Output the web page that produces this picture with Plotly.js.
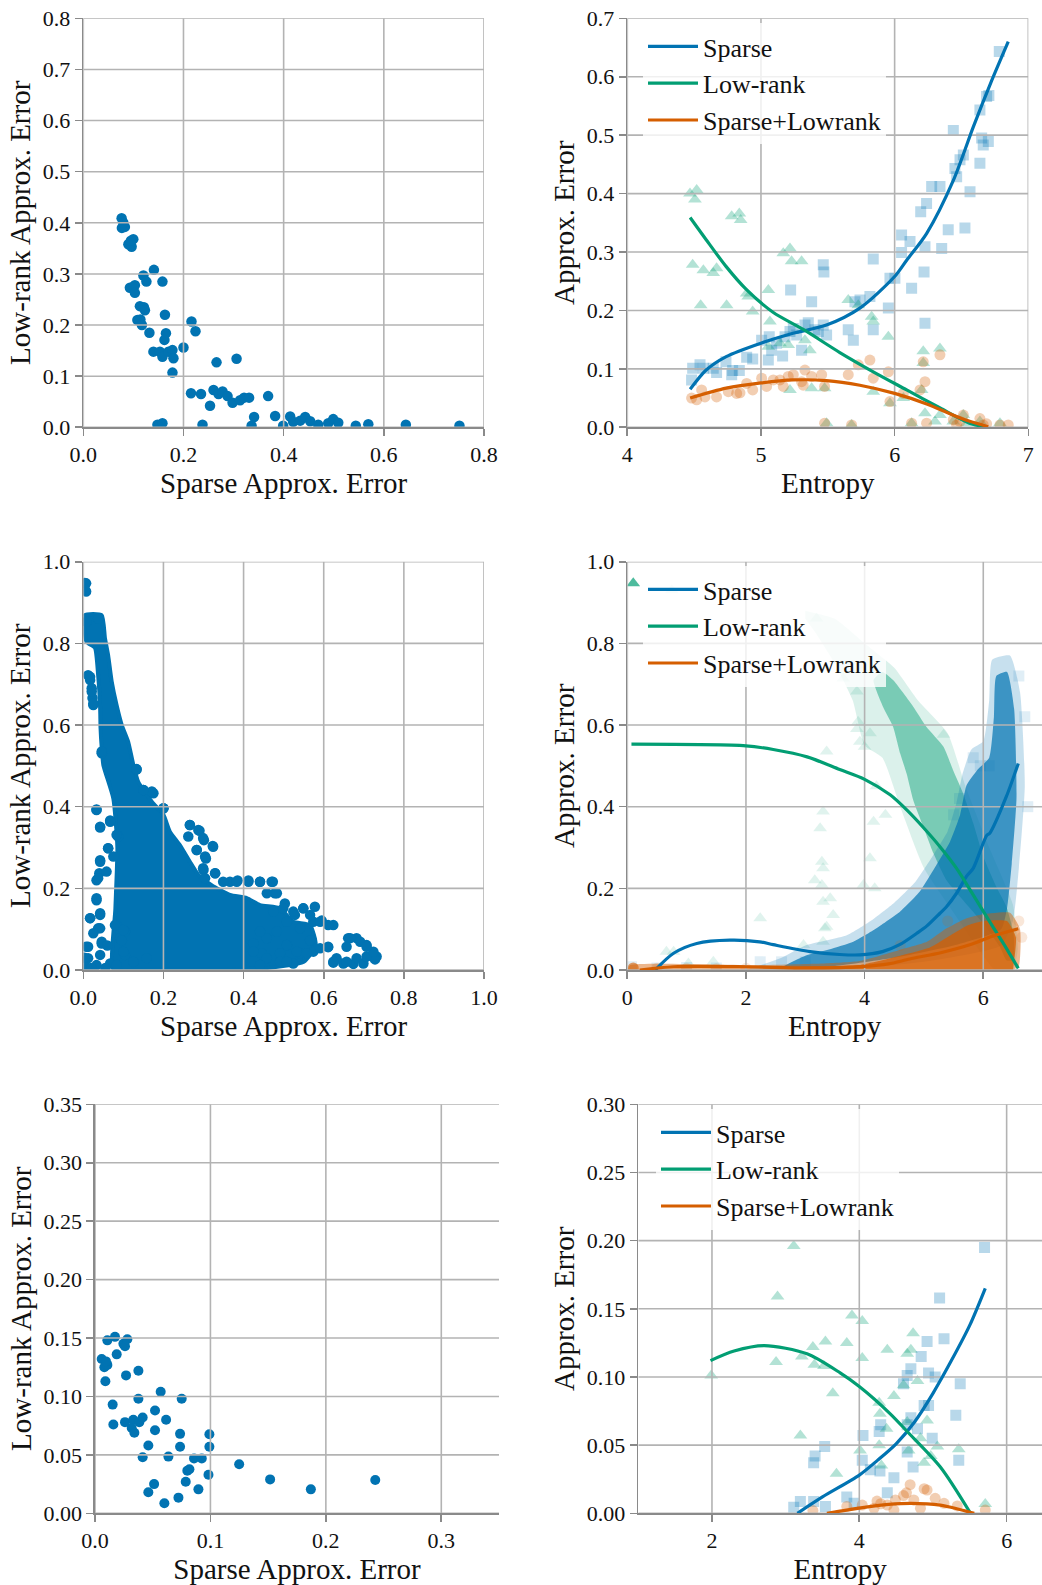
<!DOCTYPE html>
<html><head><meta charset="utf-8">
<script src="https://cdn.plot.ly/plotly-3.0.1.min.js"></script>
<style>html,body{margin:0;padding:0;background:#fff}#chart{width:1042px;height:1585px}</style>
</head><body><div id="chart"></div>
<script>
// ---------- Panel 1 (top-left): sparse vs low-rank error ----------
const p1Points = [[0.0765,0.409],[0.077,0.390],[0.083,0.392],[0.080,0.400],[0.090,0.358],[0.0965,0.353],[0.0998,0.368],[0.095,0.365],
[0.093,0.273],[0.100,0.275],[0.103,0.278],[0.103,0.263],[0.120,0.297],[0.126,0.285],[0.141,0.308],[0.158,0.285],[0.113,0.237],[0.121,0.235],
[0.123,0.229],[0.108,0.210],[0.114,0.211],[0.117,0.200],[0.132,0.185],[0.163,0.220],[0.165,0.184],[0.162,0.171],[0.140,0.148],[0.153,0.148],
[0.158,0.138],[0.170,0.148],[0.178,0.151],[0.180,0.135],[0.178,0.107],[0.200,0.156],[0.216,0.207],[0.224,0.188],[0.215,0.0665],[0.235,0.065],
[0.253,0.042],[0.266,0.127],[0.306,0.134],[0.260,0.073],[0.270,0.065],[0.278,0.070],[0.288,0.061],[0.298,0.048],[0.313,0.053],[0.321,0.058],
[0.331,0.058],[0.369,0.061],[0.341,0.020],[0.383,0.022],[0.413,0.021],[0.419,0.011],[0.433,0.013],[0.443,0.020],[0.453,0.012],[0.469,0.005],
[0.489,0.008],[0.499,0.016],[0.509,0.009],[0.544,0.003],[0.569,0.006],[0.644,0.005],[0.751,0.003],[0.148,0.005],[0.158,0.008],[0.238,0.005],
[0.336,0.003],[0.399,0.003]];
const p1XTicks = [0,0.2,0.4,0.6,0.8];
const p1YTicks = [0,0.1,0.2,0.3,0.4,0.5,0.6,0.7,0.8];

// ---------- Panel 2 (top-right): error vs entropy ----------
const p2Sparse = [[4.481,0.081],[4.489,0.101],[4.544,0.107],[4.569,0.101],[4.643,0.101],[4.668,0.094],[4.738,0.112],[4.788,0.097],[4.838,0.097],
[4.781,0.090],[4.893,0.120],[4.938,0.117],[5.005,0.149],[5.055,0.115],[5.062,0.155],[5.080,0.132],[5.117,0.144],[5.162,0.122],[5.180,0.155],
[5.217,0.164],[5.222,0.235],[5.242,0.169],[5.267,0.158],[5.304,0.132],[5.329,0.175],[5.354,0.179],[5.379,0.215],[5.404,0.167],[5.429,0.164],
[5.466,0.278],[5.471,0.266],[5.491,0.158],[5.466,0.175],[5.653,0.167],[5.691,0.149],[5.703,0.215],[5.741,0.218],[5.815,0.224],[5.840,0.288],
[5.840,0.167],[5.953,0.204],[5.965,0.255],[6.002,0.255],[6.052,0.329],[6.052,0.299],[6.115,0.318],[6.127,0.238],[6.195,0.369],[6.227,0.309],
[6.220,0.266],[6.227,0.178],[6.239,0.383],[6.277,0.412],[6.339,0.412],[6.352,0.306],[6.401,0.338],[6.439,0.508],[6.451,0.443],[6.464,0.429],
[6.489,0.458],[6.514,0.466],[6.526,0.341],[6.564,0.403],[6.638,0.452],[6.638,0.543],[6.651,0.495],[6.663,0.483],[6.701,0.489],[6.688,0.566],
[6.705,0.568],[6.783,0.643]];
const p2LowRank = [[4.469,0.400],[4.519,0.406],[4.506,0.390],[4.489,0.278],[4.569,0.269],[4.643,0.264],[4.668,0.272],[4.549,0.209],[4.743,0.209],
[4.781,0.361],[4.838,0.366],[4.848,0.355],[4.893,0.229],[4.905,0.224],[4.938,0.198],[5.055,0.235],[5.067,0.181],[5.167,0.298],[5.217,0.306],
[5.229,0.284],[5.304,0.284],[5.055,0.138],[5.142,0.144],[5.204,0.141],[5.329,0.149],[5.366,0.132],[5.217,0.064],[5.379,0.067],[5.476,0.067],
[5.491,0.007],[5.653,0.218],[5.728,0.209],[5.828,0.189],[5.840,0.181],[5.953,0.155],[5.840,0.061],[5.965,0.041],[6.065,0.050],[6.127,0.007],
[6.214,0.130],[6.214,0.110],[6.202,0.064],[6.227,0.024],[6.339,0.135],[6.302,0.010],[6.339,0.021],[6.439,0.010],[6.514,0.021],[6.638,0.010],
[6.788,0.007],[5.678,0.004],[6.539,0.007]];
const p2SparseLowRank = [[4.481,0.050],[4.519,0.047],[4.556,0.064],[4.581,0.052],[4.668,0.052],[4.756,0.061],[4.818,0.058],[4.843,0.059],
[4.893,0.075],[4.938,0.064],[5.005,0.084],[5.042,0.070],[5.092,0.081],[5.142,0.081],[5.204,0.087],[5.242,0.090],[5.304,0.078],[5.329,0.098],
[5.379,0.087],[5.454,0.090],[5.167,0.070],[5.316,0.072],[5.476,0.070],[5.653,0.090],[5.728,0.107],[5.815,0.115],[5.840,0.084],[5.953,0.095],
[5.965,0.044],[6.065,0.058],[6.190,0.064],[6.214,0.112],[6.227,0.078],[6.339,0.124],[6.239,0.007],[6.127,0.007],[5.476,0.007],[5.678,0.004],
[6.439,0.013],[6.489,0.010],[6.464,0.004],[6.638,0.015],[6.663,0.004],[6.688,0.006],[6.788,0.004],[6.850,0.004],[6.514,0.021]];
const p2FitEntropy = {
  sparse:   [4.47,4.59,4.74,5.0,5.24,5.49,5.74,6.0,6.09,6.24,6.44,6.59,6.72,6.85],
  lowrank:  [4.47,4.59,4.74,4.89,5.09,5.32,5.59,5.84,6.09,6.34,6.56,6.68],
  combined: [4.47,4.74,5.0,5.24,5.49,5.74,6.0,6.24,6.5,6.70]
};
const p2FitSparse   = [0.065,0.098,0.121,0.144,0.161,0.175,0.204,0.258,0.286,0.332,0.423,0.515,0.590,0.660];
const p2FitLowRank  = [0.359,0.321,0.275,0.236,0.197,0.167,0.128,0.095,0.064,0.033,0.007,0.001];
const p2FitCombined = [0.050,0.067,0.076,0.081,0.080,0.072,0.058,0.040,0.015,0.001];
const p2XTicks = [4,5,6,7];
const p2YTicks = [0,0.1,0.2,0.3,0.4,0.5,0.6,0.7];

// ---------- Panel 3 (middle-left): dense cloud ----------
const p3CoreOutline = [[0.004,0.869],[0.046,0.869],[0.054,0.813],[0.062,0.771],[0.071,0.706],[0.083,0.649],[0.096,0.600],[0.112,0.559],
[0.125,0.502],[0.137,0.461],[0.171,0.412],[0.200,0.380],[0.216,0.339],[0.241,0.306],[0.266,0.265],[0.287,0.233],[0.320,0.208],[0.366,0.184],
[0.408,0.176],[0.441,0.159],[0.491,0.151],[0.524,0.118],[0.566,0.110],[0.580,0.060],[0.550,0.020],[0.450,0.004],[0.300,0.002],[0.150,0.002],
[0.075,0.002],[0.080,0.150],[0.085,0.300],[0.075,0.420],[0.050,0.502],[0.046,0.544],[0.043,0.593],[0.042,0.642],[0.037,0.722],[0.029,0.789],
[0.008,0.804],[0.004,0.869]];
const p3Points = [[0.007,0.947],[0.007,0.927],[0.004,0.948],[0.004,0.931],[0.008,0.853],[0.037,0.861],[0.012,0.722],[0.017,0.710],[0.021,0.690],
[0.023,0.666],[0.025,0.649],[0.017,0.718],[0.021,0.682],[0.025,0.653],[0.046,0.531],[0.046,0.535],[0.033,0.393],[0.042,0.349],[0.067,0.366],
[0.087,0.327],[0.062,0.298],[0.042,0.269],[0.040,0.237],[0.033,0.220],[0.033,0.171],[0.042,0.135],[0.017,0.127],[0.042,0.102],[0.083,0.110],
[0.104,0.094],[0.092,0.078],[0.046,0.065],[0.012,0.057],[0.104,0.037],[0.133,0.491],[0.150,0.441],[0.175,0.433],[0.200,0.396],[0.266,0.355],
[0.290,0.341],[0.301,0.318],[0.323,0.304],[0.283,0.294],[0.306,0.273],[0.300,0.245],[0.329,0.237],[0.366,0.216],[0.385,0.219],[0.412,0.219],
[0.441,0.216],[0.473,0.216],[0.478,0.188],[0.503,0.163],[0.549,0.151],[0.578,0.155],[0.595,0.121],[0.624,0.110],[0.528,0.135],[0.570,0.073],
[0.541,0.041],[0.574,0.045],[0.611,0.056],[0.661,0.078],[0.682,0.078],[0.707,0.061],[0.732,0.033],[0.728,0.026],[0.624,0.018],[0.649,0.016],
[0.674,0.015],[0.699,0.016],[0.524,0.016],[0.499,0.020],[0.491,0.041],[0.424,0.065],[0.445,0.041],[0.524,0.143],[0.549,0.151],[0.508,0.118],
[0.541,0.102],[0.574,0.118],[0.591,0.118],[0.611,0.110],[0.566,0.073],[0.591,0.053],[0.611,0.057],[0.533,0.045],[0.491,0.020],[0.508,0.020],
[0.558,0.041],[0.632,0.029],[0.657,0.020],[0.682,0.029],[0.707,0.033],[0.724,0.045],[0.666,0.078],[0.691,0.069],[0.707,0.057],[0.657,0.057],
[0.624,0.020],[0.566,0.135],[0.499,0.151],[0.474,0.143],[0.458,0.078],[0.441,0.094],[0.424,0.045],[0.458,0.029],[0.441,0.012],[0.508,0.061],
[0.483,0.094],[0.412,0.216],[0.441,0.216],[0.470,0.216],[0.458,0.188],[0.483,0.188],[0.383,0.216],[0.349,0.216],[0.329,0.237],[0.304,0.225],
[0.266,0.355],[0.287,0.343],[0.299,0.323],[0.324,0.302],[0.262,0.327],[0.283,0.294],[0.304,0.278],[0.299,0.249],[0.171,0.437],[0.150,0.441],
[0.200,0.396],[0.133,0.492],[0.033,0.392],[0.042,0.351],[0.067,0.363],[0.083,0.331],[0.062,0.298],[0.042,0.265],[0.075,0.278],[0.037,0.225],
[0.058,0.241],[0.033,0.176],[0.042,0.139],[0.017,0.127],[0.037,0.102],[0.079,0.110],[0.100,0.098],[0.096,0.073],[0.046,0.069],[0.008,0.057],
[0.012,0.029],[0.042,0.037],[0.067,0.016],[0.100,0.045],[0.125,0.020],[0.158,0.029],[0.004,0.012],[0.033,0.012],[0.083,0.012],[0.020,0.005],
[0.055,0.005],[0.003,0.030],[0.060,0.060],[0.025,0.090]];
const p3XTicks = [0,0.2,0.4,0.6,0.8,1.0];
const p3YTicks = [0,0.2,0.4,0.6,0.8,1.0];

// ---------- Panel 4 (middle-right): dense clouds vs entropy ----------
const p4LowRankOuter = [[3.0,0.88],[3.5,0.86],[4.0,0.80],[4.5,0.74],[4.9,0.66],[5.4,0.58],[5.7,0.45],[6.1,0.30],[6.5,0.16],[6.58,0.05],
[6.5,0.0],[6.2,0.0],[5.6,0.12],[5.0,0.25],[4.6,0.40],[4.3,0.52],[4.0,0.55],[3.8,0.66],[3.5,0.75],[3.2,0.82],[3.0,0.86]];
const p4LowRankCore = [[4.15,0.71],[4.31,0.645],[4.48,0.596],[4.6,0.53],[4.71,0.48],[4.82,0.416],[4.99,0.351],[5.16,0.286],[5.38,0.22],
[5.66,0.171],[6.0,0.114],[6.28,0.057],[6.39,0.024],[6.51,0.024],[6.51,0.09],[6.39,0.155],[6.22,0.204],[6.0,0.278],[5.83,0.36],[5.66,0.433],
[5.49,0.49],[5.33,0.547],[5.04,0.596],[4.82,0.645],[4.48,0.71],[4.3,0.73],[4.15,0.71]];
const p4SparseOuter = [[2.0,0.0],[2.6,0.03],[3.0,0.06],[3.7,0.085],[4.1,0.12],[4.5,0.165],[4.85,0.215],[5.15,0.28],[5.4,0.34],[5.55,0.41],
[5.65,0.48],[5.8,0.54],[6.0,0.56],[6.1,0.66],[6.15,0.76],[6.45,0.77],[6.62,0.68],[6.7,0.45],[6.6,0.25],[6.5,0.12],[6.3,0.06],[5.0,0.02],
[3.5,0.0]];
const p4SparseCore = [[2.6,0.005],[3.0,0.035],[3.4,0.05],[3.81,0.069],[4.2,0.102],[4.6,0.143],[4.93,0.192],[5.21,0.257],[5.44,0.314],
[5.61,0.38],[5.72,0.453],[5.9,0.49],[6.1,0.52],[6.18,0.62],[6.22,0.72],[6.4,0.73],[6.52,0.64],[6.56,0.42],[6.48,0.26],[6.4,0.15],[6.3,0.10],
[5.5,0.06],[4.5,0.03],[3.5,0.01],[2.6,0.005]];
const p4CombinedOuter = [[0.0,0.0],[0.05,0.012],[2.2,0.012],[3.3,0.016],[3.92,0.022],[4.59,0.049],[5.05,0.069],[5.38,0.102],[5.72,0.127],
[5.94,0.135],[6.45,0.14],[6.62,0.10],[6.6,0.01],[6.5,0.0]];
const p4CombinedCore = [[2.8,0.0],[2.8,0.005],[3.9,0.012],[4.6,0.035],[5.1,0.055],[5.45,0.085],[5.75,0.11],[6.0,0.12],[6.4,0.12],[6.55,0.08],
[6.5,0.0]];
const p4LowRankPoints = [[0.75,0.93],[0.66,0.045],[0.78,0.045],[1.03,0.016],[1.45,0.02],[2.24,0.127],[2.97,0.061],[3.16,0.22],[3.25,0.347],
[3.28,0.265],[3.30,0.249],[3.28,0.208],[3.30,0.388],[3.42,0.176],[3.30,0.167],[3.47,0.135],[3.33,0.102],[3.30,0.069],[4.15,0.363],[4.09,0.274],
[3.98,0.208],[4.17,0.20],[3.92,0.559],[3.87,0.59],[3.36,0.535],[3.64,0.714],[3.87,0.682],[5.33,0.576],[3.19,0.861],[3.89,0.608],[4.09,0.58],
[4.0,0.547],[3.36,0.106],[4.2,0.45],[4.35,0.38]];
const p4LowRankSolid = [[0.10,0.947]];
const p4SparsePoints = [[0.07,0.008],[0.5,0.005],[1.0,0.006],[1.5,0.005],[2.24,0.02],[2.6,0.02],[3.0,0.02],[5.83,0.52],[5.95,0.50],[6.1,0.50],
[6.6,0.72],[6.7,0.62],[6.75,0.40],[5.6,0.42],[5.5,0.38]];
const p4CombinedPoints = [[0.5,0.004],[1.0,0.004],[1.5,0.003],[2.0,0.004],[6.6,0.12],[6.65,0.08],[5.4,0.12],[4.6,0.06]];
const p4CombinedSolid = [[0.10,0.005]];
const p4FitEntropy = {
  sparse:   [0.47,0.78,1.17,1.73,2.23,2.46,3.08,3.58,3.92,4.3,4.59,4.88,5.05,5.27,5.38,5.55,5.72,5.83,6.06,6.11,6.39,6.59],
  lowrank:  [0.07,2.0,2.46,3.03,3.58,4.0,4.43,4.71,4.99,5.27,5.55,5.83,6.11,6.39,6.59],
  combined: [0.21,0.78,2.0,3.02,4.0,4.4,4.76,5.3,5.8,6.2,6.59]
};
const p4FitSparse   = [0.0,0.041,0.065,0.073,0.069,0.062,0.045,0.038,0.037,0.045,0.062,0.090,0.108,0.139,0.155,0.188,0.230,0.249,0.330,0.335,0.425,0.506];
const p4FitLowRank  = [0.553,0.549,0.540,0.522,0.491,0.467,0.429,0.392,0.349,0.302,0.249,0.184,0.118,0.053,0.004];
const p4FitCombined = [0.0,0.008,0.008,0.005,0.009,0.015,0.027,0.043,0.063,0.085,0.101];
const p4XTicks = [0,2,4,6];
const p4YTicks = [0,0.2,0.4,0.6,0.8,1.0];

// ---------- Panel 5 (bottom-left) ----------
const p5Points = [[0.0058,0.132],[0.0081,0.125],[0.0107,0.127],[0.0095,0.130],[0.009,0.113],[0.0107,0.148],[0.0173,0.151],[0.0246,0.145],
[0.026,0.143],[0.028,0.149],[0.0188,0.136],[0.0269,0.118],[0.0376,0.122],[0.0376,0.098],[0.0153,0.093],[0.0159,0.076],[0.026,0.078],
[0.0332,0.080],[0.0318,0.073],[0.0341,0.069],[0.0384,0.078],[0.0413,0.082],[0.0462,0.058],[0.0413,0.048],[0.0462,0.018],[0.0512,0.025],
[0.0601,0.0086],[0.0569,0.104],[0.052,0.088],[0.0616,0.080],[0.052,0.071],[0.0636,0.0485],[0.0737,0.068],[0.0737,0.057],[0.0751,0.098],
[0.0723,0.0134],[0.0786,0.027],[0.080,0.0365],[0.0818,0.0377],[0.0858,0.047],[0.0925,0.047],[0.0896,0.0205],[0.0983,0.033],[0.0991,0.0676],
[0.0991,0.057],[0.1249,0.042],[0.1517,0.029],[0.187,0.0205],[0.2428,0.0285]];
const p5XTicks = [0,0.1,0.2,0.3];
const p5YTicks = [0,0.05,0.10,0.15,0.20,0.25,0.30,0.35];

// ---------- Panel 6 (bottom-right) ----------
const p6Sparse = [[3.11,0.0044],[3.20,0.0086],[3.38,0.0086],[3.54,0.0049],[3.38,0.037],[3.40,0.042],[3.53,0.049],[3.83,0.012],[3.93,0.0073],
[4.04,0.039],[4.05,0.057],[4.15,0.032],[4.27,0.060],[4.29,0.065],[4.28,0.031],[4.38,0.015],[4.47,0.026],[4.60,0.095],[4.65,0.101],[4.70,0.106],
[4.65,0.065],[4.70,0.070],[4.65,0.045],[4.73,0.034],[4.79,0.062],[4.84,0.115],[4.88,0.079],[4.94,0.079],[4.92,0.126],[4.99,0.055],[4.94,0.103],
[5.03,0.100],[5.09,0.158],[5.15,0.128],[5.31,0.072],[5.35,0.039],[5.37,0.095],[5.70,0.195]];
const p6LowRank = [[1.99,0.101],[2.87,0.111],[2.89,0.159],[3.11,0.196],[3.20,0.057],[3.22,0.115],[3.37,0.122],[3.39,0.109],[3.54,0.126],
[3.52,0.108],[3.64,0.088],[3.69,0.029],[3.83,0.125],[3.90,0.145],[4.04,0.141],[4.04,0.114],[4.01,0.046],[4.27,0.081],[4.28,0.073],[4.27,0.050],
[4.30,0.035],[4.37,0.062],[4.38,0.120],[4.47,0.086],[4.60,0.094],[4.65,0.117],[4.70,0.120],[4.73,0.132],[4.79,0.097],[4.65,0.067],[4.83,0.055],
[4.67,0.046],[4.88,0.037],[4.92,0.068],[4.97,0.042],[5.06,0.049],[5.35,0.047],[5.71,0.0068]];
const p6SparseLowRank = [[3.37,0.002],[3.83,0.005],[4.04,0.006],[4.24,0.009],[4.29,0.007],[4.38,0.006],[4.49,0.0098],[4.60,0.013],[4.64,0.015],
[4.69,0.021],[4.74,0.0098],[4.88,0.018],[4.92,0.017],[5.03,0.011],[5.15,0.0073],[5.33,0.0054],[5.71,0.0024],[4.83,0.0037],[4.47,0.0024],
[4.20,0.0037]];
const p6FitEntropy = {
  sparse:   [3.16,3.5,4.0,4.25,4.5,4.75,5.0,5.25,5.5,5.71],
  lowrank:  [1.98,2.3,2.71,3.29,3.74,4.0,4.42,4.65,5.10,5.51],
  combined: [3.56,4.02,4.4,4.70,5.10,5.35,5.56]
};
const p6FitSparse   = [0.0,0.012,0.028,0.039,0.051,0.067,0.088,0.112,0.138,0.165];
const p6FitLowRank  = [0.112,0.119,0.123,0.117,0.103,0.093,0.073,0.060,0.034,0.0];
const p6FitCombined = [0.0,0.004,0.0065,0.0073,0.006,0.003,0.0];
const p6XTicks = [2,4,6];
const p6YTicks = [0,0.05,0.10,0.15,0.20,0.25,0.30];

const legendNames = ['Sparse','Low-rank','Sparse+Lowrank'];
const xTitleScatter = 'Sparse Approx. Error';
const yTitleScatter = 'Low-rank Approx. Error';
const xTitleEntropy = 'Entropy';
const yTitleEntropy = 'Approx. Error';

// ---------- styling ----------
const FONT = '"Liberation Serif", "Times New Roman", serif';
const BLUE = '#0173b2', GREEN = '#029e73', ORANGE = '#d55e00';
const GRID = '#b3b3b3', SPINE = '#8a8a8a', TXT = '#111111';
function rgba(hex, a){const n=parseInt(hex.slice(1),16);return `rgba(${n>>16&255},${n>>8&255},${n&255},${a})`;}
const X = pts => pts.map(p=>p[0]);
const Y = pts => pts.map(p=>p[1]);

function scatterPts(pts, xa, ya, color, symbol, size, opacity){
  return {type:'scatter', mode:'markers', x:X(pts), y:Y(pts), xaxis:xa, yaxis:ya, showlegend:false, hoverinfo:'skip',
    marker:{color:rgba(color,opacity), size:size, symbol:symbol, line:{width:0}}};
}
function cloud(pts, xa, ya, color, opacity, lw){
  return {type:'scatter', mode:'lines', x:X(pts), y:Y(pts), xaxis:xa, yaxis:ya, fill:'toself', fillcolor:rgba(color,opacity),
    line:{color:lw?rgba(color,opacity):'rgba(0,0,0,0)', width:lw||0, shape:'spline', smoothing:0.5}, showlegend:false, hoverinfo:'skip'};
}
function fit(xs, ys, xa, ya, color, name, legend){
  return {type:'scatter', mode:'lines', x:xs, y:ys, xaxis:xa, yaxis:ya, name:name, legend:legend,
    line:{color:color, width:3.2, shape:'spline', smoothing:0.8}, hoverinfo:'skip'};
}
function grid(xTicks, yTicks, xr, yr, xa, ya){
  const gx=[], gy=[];
  xTicks.forEach(t=>{gx.push(t,t,null); gy.push(yr[0],yr[1],null);});
  yTicks.forEach(t=>{gx.push(xr[0],xr[1],null); gy.push(t,t,null);});
  return {type:'scatter', mode:'lines', x:gx, y:gy, xaxis:xa, yaxis:ya, line:{color:GRID, width:1.6},
    showlegend:false, hoverinfo:'skip', connectgaps:false};
}

const R = {
  x1:[0,0.8], y1:[0,0.8], x2:[4,7], y2:[0,0.7], x3:[0,1], y3:[0,1],
  x4:[0,6.99], y4:[0,1], x5:[0,0.35], y5:[0,0.35], x6:[1,6.48], y6:[0,0.30]
};

const traces = [];
// panel 1
traces.push(scatterPts(p1Points,'x','y',BLUE,'circle',10.5,1));
traces.push(grid(p1XTicks,p1YTicks,R.x1,R.y1,'x','y'));
// panel 2
traces.push(scatterPts(p2Sparse,'x2','y2',BLUE,'square',11,0.28));
traces.push(scatterPts(p2LowRank,'x2','y2',GREEN,'triangle-up',12,0.3));
traces.push(scatterPts(p2SparseLowRank,'x2','y2',ORANGE,'circle',11,0.3));
traces.push(grid(p2XTicks,p2YTicks,R.x2,R.y2,'x2','y2'));
traces.push(fit(p2FitEntropy.sparse,p2FitSparse,'x2','y2',BLUE,legendNames[0],'legend'));
traces.push(fit(p2FitEntropy.lowrank,p2FitLowRank,'x2','y2',GREEN,legendNames[1],'legend'));
traces.push(fit(p2FitEntropy.combined,p2FitCombined,'x2','y2',ORANGE,legendNames[2],'legend'));
// panel 3
traces.push(cloud(p3CoreOutline,'x3','y3',BLUE,1,4));
traces.push(scatterPts(p3Points,'x3','y3',BLUE,'circle',10.5,1));
traces.push(grid(p3XTicks,p3YTicks,R.x3,R.y3,'x3','y3'));
// panel 4
traces.push(scatterPts(p4LowRankPoints,'x4','y4',GREEN,'triangle-up',12,0.12));
traces.push(scatterPts(p4LowRankSolid,'x4','y4',GREEN,'triangle-up',12,0.7));
traces.push(cloud(p4LowRankOuter,'x4','y4',GREEN,0.14));
traces.push(cloud(p4LowRankCore,'x4','y4',GREEN,0.45));
traces.push(scatterPts(p4SparsePoints,'x4','y4',BLUE,'square',11,0.12));
traces.push(cloud(p4SparseOuter,'x4','y4',BLUE,0.22));
traces.push(cloud(p4SparseCore,'x4','y4',BLUE,0.7));
traces.push(scatterPts(p4CombinedPoints,'x4','y4',ORANGE,'circle',11,0.15));
traces.push(scatterPts(p4CombinedSolid,'x4','y4',ORANGE,'circle',11,0.6));
traces.push(cloud(p4CombinedOuter,'x4','y4',ORANGE,0.45));
traces.push(cloud(p4CombinedCore,'x4','y4',ORANGE,0.75));
traces.push(grid(p4XTicks,p4YTicks,R.x4,R.y4,'x4','y4'));
traces.push(fit(p4FitEntropy.sparse,p4FitSparse,'x4','y4',BLUE,legendNames[0],'legend2'));
traces.push(fit(p4FitEntropy.lowrank,p4FitLowRank,'x4','y4',GREEN,legendNames[1],'legend2'));
traces.push(fit(p4FitEntropy.combined,p4FitCombined,'x4','y4',ORANGE,legendNames[2],'legend2'));
// panel 5
traces.push(scatterPts(p5Points,'x5','y5',BLUE,'circle',10,1));
traces.push(grid(p5XTicks,p5YTicks,R.x5,R.y5,'x5','y5'));
// panel 6
traces.push(scatterPts(p6Sparse,'x6','y6',BLUE,'square',11,0.28));
traces.push(scatterPts(p6LowRank,'x6','y6',GREEN,'triangle-up',12,0.3));
traces.push(scatterPts(p6SparseLowRank,'x6','y6',ORANGE,'circle',11,0.3));
traces.push(grid(p6XTicks,p6YTicks,R.x6,R.y6,'x6','y6'));
traces.push(fit(p6FitEntropy.sparse,p6FitSparse,'x6','y6',BLUE,legendNames[0],'legend3'));
traces.push(fit(p6FitEntropy.lowrank,p6FitLowRank,'x6','y6',GREEN,legendNames[1],'legend3'));
traces.push(fit(p6FitEntropy.combined,p6FitCombined,'x6','y6',ORANGE,legendNames[2],'legend3'));

const W = 1042, H = 1585;
const px = v => v/W, py = v => 1 - v/H;
function axis(domain, range, ticks, fmt, title, isX){
  return {domain:domain, range:range, tickvals:ticks, tickformat:fmt, showgrid:false, zeroline:false,
    showline:true, linecolor:SPINE, linewidth:1.6, ticks:'outside', ticklen:7, tickwidth:1.6, tickcolor:SPINE,
    tickfont:{family:FONT, size:22, color:TXT}, layer:'above traces', fixedrange:true, automargin:false,
    title:{text:title, font:{family:FONT, size:29, color:TXT}, standoff: isX?6:3}};
}
const legendBase = {xanchor:'left', yanchor:'top', bgcolor:'rgba(255,255,255,0.8)', borderwidth:0,
  font:{family:FONT, size:26, color:TXT}, itemwidth:50, tracegroupgap:0, itemclick:false, itemdoubleclick:false};

const layout = {
  width:W, height:H, margin:{l:0,r:0,t:0,b:0}, paper_bgcolor:'#fff', plot_bgcolor:'#fff', showlegend:true,
  xaxis:  axis([px(83.3),px(484)], R.x1, p1XTicks, '.1f', xTitleScatter, true),
  yaxis:  axis([py(427.3),py(18.3)], R.y1, p1YTicks, '.1f', yTitleScatter, false),
  xaxis2: axis([px(627.3),px(1028.3)], R.x2, p2XTicks, 'd', xTitleEntropy, true),
  yaxis2: axis([py(427.3),py(18.3)], R.y2, p2YTicks, '.1f', yTitleEntropy, false),
  xaxis3: axis([px(83.3),px(484)], R.x3, p3XTicks, '.1f', xTitleScatter, true),
  yaxis3: axis([py(970),py(561.7)], R.y3, p3YTicks, '.1f', yTitleScatter, false),
  xaxis4: axis([px(627.3),1], R.x4, p4XTicks, 'd', xTitleEntropy, true),
  yaxis4: axis([py(970),py(561.7)], R.y4, p4YTicks, '.1f', yTitleEntropy, false),
  xaxis5: axis([px(95),px(499)], R.x5, p5XTicks, '.1f', xTitleScatter, true),
  yaxis5: axis([py(1513.3),py(1104.3)], R.y5, p5YTicks, '.2f', yTitleScatter, false),
  xaxis6: axis([px(638.3),1], R.x6, p6XTicks, 'd', xTitleEntropy, true),
  yaxis6: axis([py(1513.3),py(1104.3)], R.y6, p6YTicks, '.2f', yTitleEntropy, false),
  legend:  Object.assign({}, legendBase, {x:px(643), y:py(23)}),
  legend2: Object.assign({}, legendBase, {x:px(643), y:py(566)}),
  legend3: Object.assign({}, legendBase, {x:px(656), y:py(1109)})
};
layout.xaxis.anchor='y'; layout.yaxis.anchor='x';
for (let i=2;i<=6;i++){ layout['xaxis'+i].anchor='y'+i; layout['yaxis'+i].anchor='x'+i; }

Plotly.newPlot('chart', traces, layout, {staticPlot:true, displayModeBar:false});
</script>
</body></html>
